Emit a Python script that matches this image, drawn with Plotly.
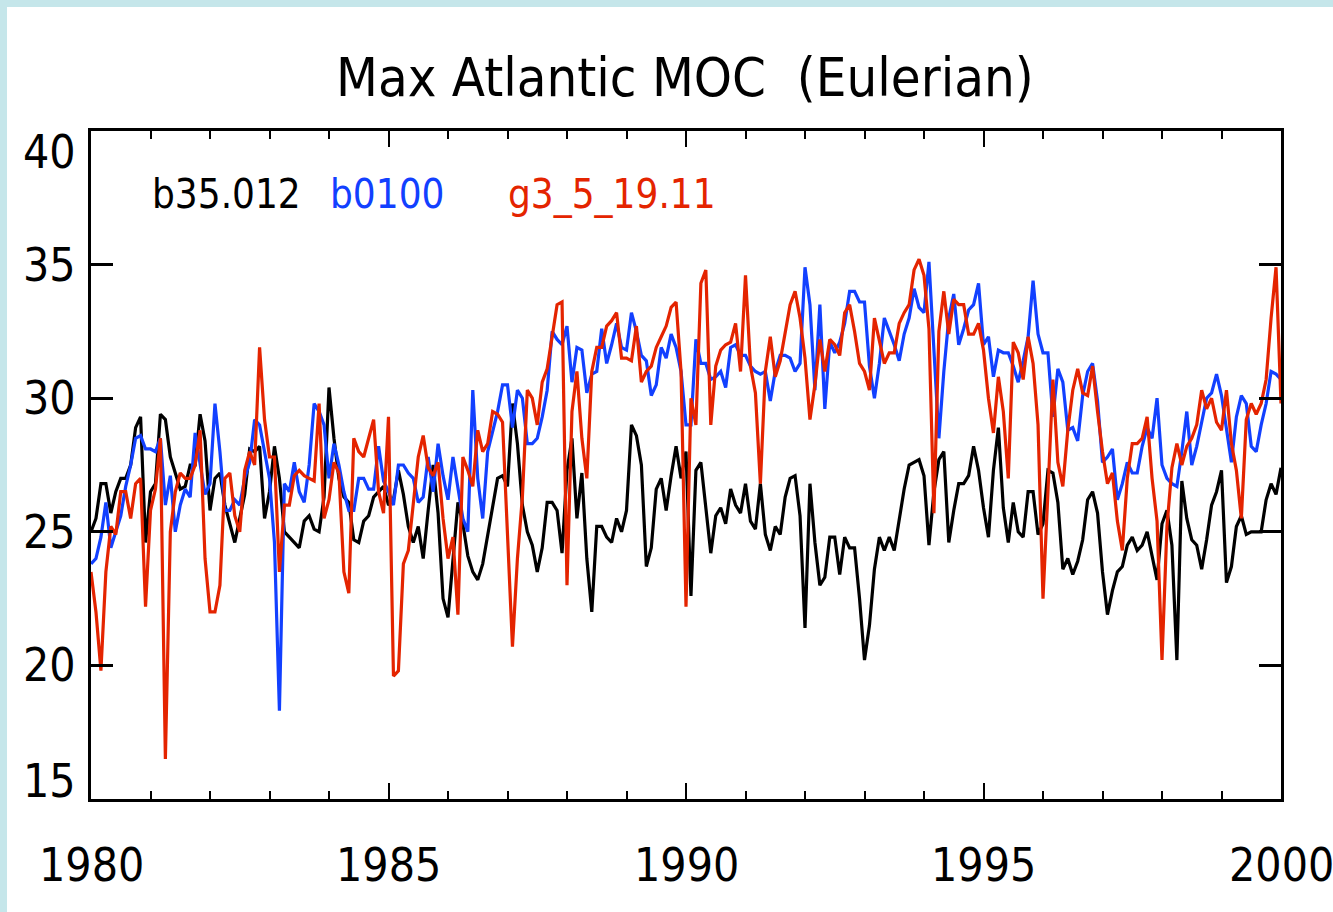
import plotly.graph_objects as go

# ---------------- data (monthly, Jan 1980 .. Jan 2000) ----------------
start_year = 1980
months_per_year = 12

b35_012 = [
    25.0, 25.5, 26.8, 26.8, 25.7, 26.5, 27.0, 27.0, 27.5, 28.9,
    29.3, 24.6, 26.5, 26.8, 29.4, 29.2, 27.8, 27.2, 26.6, 26.7,
    27.5, 27.5, 29.4, 28.4, 25.8, 27.0, 27.2, 26.0, 25.3, 24.6,
    25.5, 26.4, 28.1, 28.0, 28.2, 25.5, 26.5, 28.2, 27.0, 25.0,
    24.8, 24.6, 24.4, 25.4, 25.6, 25.1, 25.0, 26.3, 30.4, 28.5,
    27.0, 26.3, 26.1, 24.7, 24.6, 25.4, 25.6, 26.3, 26.5, 26.7,
    26.0, 26.2, 27.3, 26.4, 25.2, 24.6, 25.2, 24.0, 25.8, 27.5,
    25.7, 22.5, 21.8, 23.8, 26.1, 25.3, 24.1, 23.5, 23.2, 23.8,
    24.9, 26.0, 27.0, 27.1, 26.7, 29.8, 28.3, 26.0, 25.0, 24.5,
    23.5, 24.4, 26.1, 26.1, 25.8, 24.2, 27.3, 28.5, 25.5, 27.2,
    24.0, 22.0, 25.2, 25.2, 24.8, 24.6, 25.5, 25.0, 25.8, 29.0,
    28.6, 27.5, 23.7, 24.4, 26.6, 27.0, 25.8, 27.1, 28.2, 27.0,
    28.0, 22.6, 27.3, 27.6, 26.0, 24.2, 25.6, 25.9, 25.3, 26.6,
    26.0, 25.7, 26.8, 25.4, 25.1, 26.8, 24.9, 24.3, 25.2, 24.9,
    26.3, 27.0, 27.1, 25.6, 21.4, 26.8, 24.6, 23.0, 23.3, 24.8,
    24.8, 23.4, 24.8, 24.4, 24.4, 22.5, 20.2, 21.5, 23.6, 24.8,
    24.3, 24.8, 24.3, 25.4, 26.6, 27.5, 27.6, 27.7, 27.1, 24.5,
    26.5, 27.7, 28.0, 24.6, 25.8, 26.8, 26.8, 27.1, 28.2, 27.3,
    25.9, 24.8, 27.3, 28.9, 25.9, 24.6, 26.1, 25.0, 24.8, 26.5,
    26.5, 24.9, 25.3, 27.3, 27.2, 26.1, 23.6, 24.0, 23.4, 23.9,
    24.7, 26.2, 26.5, 25.7, 23.5, 21.9, 22.8, 23.5, 23.7, 24.5,
    24.8, 24.3, 24.5, 25.0, 24.1, 23.2, 25.3, 25.8, 24.5, 20.2,
    26.9, 25.5, 24.7, 24.5, 23.6, 24.7, 26.0, 26.5, 27.3, 23.1,
    23.7, 25.2, 25.6, 24.9, 25.0, 25.0, 25.0, 26.2, 26.8, 26.4,
    27.4,
]

b0100 = [
    23.8, 24.0, 24.8, 26.1, 24.4, 25.0, 25.6, 26.7, 27.5, 28.5,
    28.6, 28.1, 28.1, 28.0, 28.5, 26.0, 27.1, 25.0, 26.0, 26.6,
    26.3, 28.7, 27.5, 26.4, 26.8, 29.8, 28.0, 25.8, 25.8, 26.2,
    26.0, 27.0, 27.6, 29.2, 29.0, 28.0, 27.0, 24.6, 18.3, 26.8,
    26.5, 27.6, 26.5, 26.1, 27.5, 29.8, 29.5, 29.0, 27.0, 28.3,
    27.5, 26.5, 25.8, 25.8, 27.0, 27.0, 26.6, 26.6, 28.2, 26.9,
    26.5, 26.0, 27.5, 27.5, 27.2, 27.0, 26.1, 26.3, 27.8, 26.5,
    28.3, 27.1, 26.2, 27.8, 26.7, 25.5, 25.0, 30.3, 27.0, 25.5,
    28.0, 28.8, 29.5, 30.5, 30.5, 28.9, 30.3, 30.0, 28.3, 28.3,
    28.5, 29.3, 30.3, 32.5, 32.2, 32.0, 32.7, 30.6, 31.9, 31.8,
    30.2, 30.9, 31.0, 32.6, 31.3, 32.0, 32.8, 31.9, 31.8, 33.2,
    32.5, 31.6, 31.4, 30.1, 30.5, 31.9, 31.5, 32.4, 31.9, 31.0,
    29.0, 29.0, 32.2, 31.3, 31.3, 30.7, 30.8, 31.0, 30.4, 31.9,
    32.0, 31.6, 31.6, 31.2, 31.0, 30.9, 31.0, 29.9, 31.0, 31.6,
    31.6, 31.5, 31.0, 31.3, 34.9, 33.5, 30.3, 33.5, 29.6, 32.1,
    31.7, 32.1, 32.8, 34.0, 34.0, 33.6, 33.6, 31.2, 30.0, 31.3,
    33.0, 32.5, 32.0, 31.4, 32.4, 33.0, 34.1, 33.4, 33.2, 35.1,
    32.0, 28.5, 31.0, 33.0, 33.9, 32.0, 32.6, 33.3, 33.5, 34.3,
    32.0, 32.3, 30.8, 31.8, 31.7, 31.7, 31.2, 30.6, 31.4, 32.3,
    34.4, 32.4, 31.7, 31.7, 29.3, 31.1, 30.6, 28.8, 28.9, 28.4,
    30.1, 31.0, 31.3, 29.9, 27.6, 27.8, 28.1, 26.2, 26.8, 27.6,
    27.2, 27.2, 28.2, 28.9, 28.5, 30.0, 27.5, 27.0, 26.8, 26.7,
    28.0, 29.5, 27.5, 28.2, 29.1, 30.0, 30.2, 30.9, 30.1, 28.8,
    27.6, 29.3, 30.1, 29.8, 28.2, 28.0, 29.0, 29.8, 31.0, 30.9,
    30.7,
]

g3_5_19_11 = [
    23.5, 22.0, 19.8, 23.5, 25.2, 24.9, 26.5, 26.5, 25.5, 26.8,
    27.0, 22.2, 25.8, 26.6, 28.5, 16.5, 25.0, 26.5, 27.2, 27.0,
    27.0, 27.5, 28.8, 24.0, 22.0, 22.0, 23.0, 27.0, 27.2, 25.6,
    25.0, 27.3, 28.0, 27.5, 31.9, 29.2, 27.8, 27.8, 23.5, 26.0,
    26.0, 27.1, 27.3, 27.1, 27.0, 26.9, 29.8, 25.5, 26.2, 27.6,
    27.2, 23.5, 22.7, 28.5, 28.0, 27.8, 28.5, 29.2, 26.5, 25.7,
    29.3, 19.6, 19.8, 23.8, 24.3, 26.0, 27.8, 28.6, 27.4, 27.1,
    27.6, 25.5, 24.0, 24.8, 21.9, 27.8, 27.3, 26.7, 28.8, 28.0,
    28.3, 29.5, 29.4, 29.1, 25.0, 20.7, 24.0, 26.3, 30.3, 30.0,
    29.0, 30.6, 31.1, 32.4, 33.5, 33.6, 23.0, 29.5, 31.0, 28.5,
    27.0, 31.0, 31.9, 31.9, 32.7, 32.9, 33.2, 31.5, 31.5, 31.4,
    32.7, 30.6, 31.0, 31.2, 31.9, 32.3, 32.7, 33.4, 33.6, 31.0,
    22.2, 30.0, 29.0, 34.3, 34.8, 29.0, 31.2, 31.8, 32.0, 32.1,
    32.8, 31.0, 34.6, 31.2, 30.2, 26.8, 31.0, 32.3, 30.8, 31.4,
    32.5, 33.5, 34.0, 33.0, 31.5, 29.2, 30.5, 32.2, 31.0, 32.2,
    32.0, 31.6, 33.2, 33.5, 32.5, 31.3, 31.0, 30.3, 33.0, 32.2,
    31.3, 31.7, 31.7, 32.8, 33.2, 33.5, 34.8, 35.2, 34.6, 32.6,
    25.7, 32.5, 34.0, 32.4, 33.7, 33.5, 33.5, 32.4, 32.4, 32.8,
    31.8, 30.0, 28.7, 30.8, 29.5, 27.0, 32.1, 31.7, 30.7, 32.3,
    31.3, 29.0, 22.5, 26.5, 30.7, 27.6, 26.7, 28.8, 30.3, 31.1,
    30.2, 30.1, 31.2, 29.5, 28.0, 26.8, 27.2, 25.4, 24.3, 27.0,
    28.3, 28.3, 28.5, 29.3, 27.0, 25.4, 20.2, 25.2, 27.4, 28.3,
    27.5, 28.2, 28.5, 29.0, 30.3, 29.6, 30.0, 29.1, 28.8, 30.3,
    28.3, 27.3, 25.5, 29.2, 29.8, 29.4, 29.8, 30.7, 33.0, 34.9,
    29.8,
]

series_names = ["b35.012", "b0100", "g3_5_19.11"]
series_colors = ["#000000", "#1240ff", "#e42400"]
series_values = [b35_012, b0100, g3_5_19_11]

x_ticks = [1980, 1985, 1990, 1995, 2000]
x_tick_labels = ["1980", "1985", "1990", "1995", "2000"]
y_ticks = [15, 20, 25, 30, 35, 40]
y_tick_labels = ["15", "20", "25", "30", "35", "40"]
title_text = "Max Atlantic MOC\u00a0\u00a0(Eulerian)"

for v in series_values:
    assert len(v) == 241, len(v)

time = [start_year + i / months_per_year for i in range(241)]

# ---------------- figure ----------------
W, H = 1333, 912
L, R, T, B = 91, 52, 131, 113
PW, PH = W - L - R, H - T - B

def px_x(p):
    return (p - L) / PW

def px_y(p):
    return (H - B - p) / PH

FONT = "DejaVu Sans Condensed, DejaVu Sans, sans-serif"

fig = go.Figure()
for name, color, vals in zip(series_names, series_colors, series_values):
    fig.add_trace(go.Scatter(x=time, y=vals, mode="lines", name=name,
                             line=dict(color=color, width=3.2),
                             showlegend=False, hoverinfo="skip"))

annotations = []
# legend-like labels at fixed positions
for name, color, xp in zip(series_names, series_colors, [150, 328, 506]):
    annotations.append(dict(text=name, x=px_x(xp), y=px_y(194), xref="paper", yref="paper",
                            xanchor="left", yanchor="middle", showarrow=False,
                            font=dict(family=FONT, size=40, color=color)))
# y tick labels
yshift = {40: -21, 15: 18}
for v, lab in zip(y_ticks, y_tick_labels):
    annotations.append(dict(text=lab, x=px_x(78), y=v, xref="paper", yref="y",
                            xanchor="right", yanchor="middle", yshift=yshift.get(v, 0),
                            showarrow=False, font=dict(family=FONT, size=46, color="black")))
# x tick labels
for v, lab in zip(x_ticks, x_tick_labels):
    annotations.append(dict(text=lab, x=v, y=px_y(865), xref="x", yref="paper",
                            xanchor="center", yanchor="middle", showarrow=False,
                            font=dict(family=FONT, size=46, color="black")))
# title
annotations.append(dict(text=title_text, x=px_x(685), y=px_y(78), xref="paper", yref="paper",
                        xanchor="center", yanchor="middle", showarrow=False,
                        font=dict(family=FONT, size=54, color="black")))

fig.update_layout(
    width=W, height=H,
    margin=dict(l=L, r=R, t=T, b=B, pad=0),
    paper_bgcolor="#c5e6ea",
    plot_bgcolor="white",
    annotations=annotations,
    shapes=[dict(type="rect", xref="paper", yref="paper",
                 x0=px_x(7), x1=px_x(W + 5), y0=px_y(H + 5), y1=px_y(7),
                 fillcolor="white", line=dict(width=0), layer="below")],
    xaxis=dict(range=[1980, 2000], showgrid=False, zeroline=False,
               showline=True, linecolor="black", linewidth=3, mirror="allticks",
               ticks="inside", tickvals=x_ticks, ticklen=16, tickwidth=2, tickcolor="black",
               showticklabels=False,
               minor=dict(dtick=1, tick0=1980, ticks="inside", ticklen=8, tickwidth=2,
                          tickcolor="black", showgrid=False)),
    yaxis=dict(range=[15, 40], showgrid=False, zeroline=False,
               showline=True, linecolor="black", linewidth=3, mirror="allticks",
               ticks="inside", tickvals=[20, 25, 30, 35], ticklen=22, tickwidth=3,
               tickcolor="black", showticklabels=False),
)

fig.write_html("out.html",
               config={"displayModeBar": False},
               post_script="document.body.style.margin='0';document.body.style.padding='0';")
